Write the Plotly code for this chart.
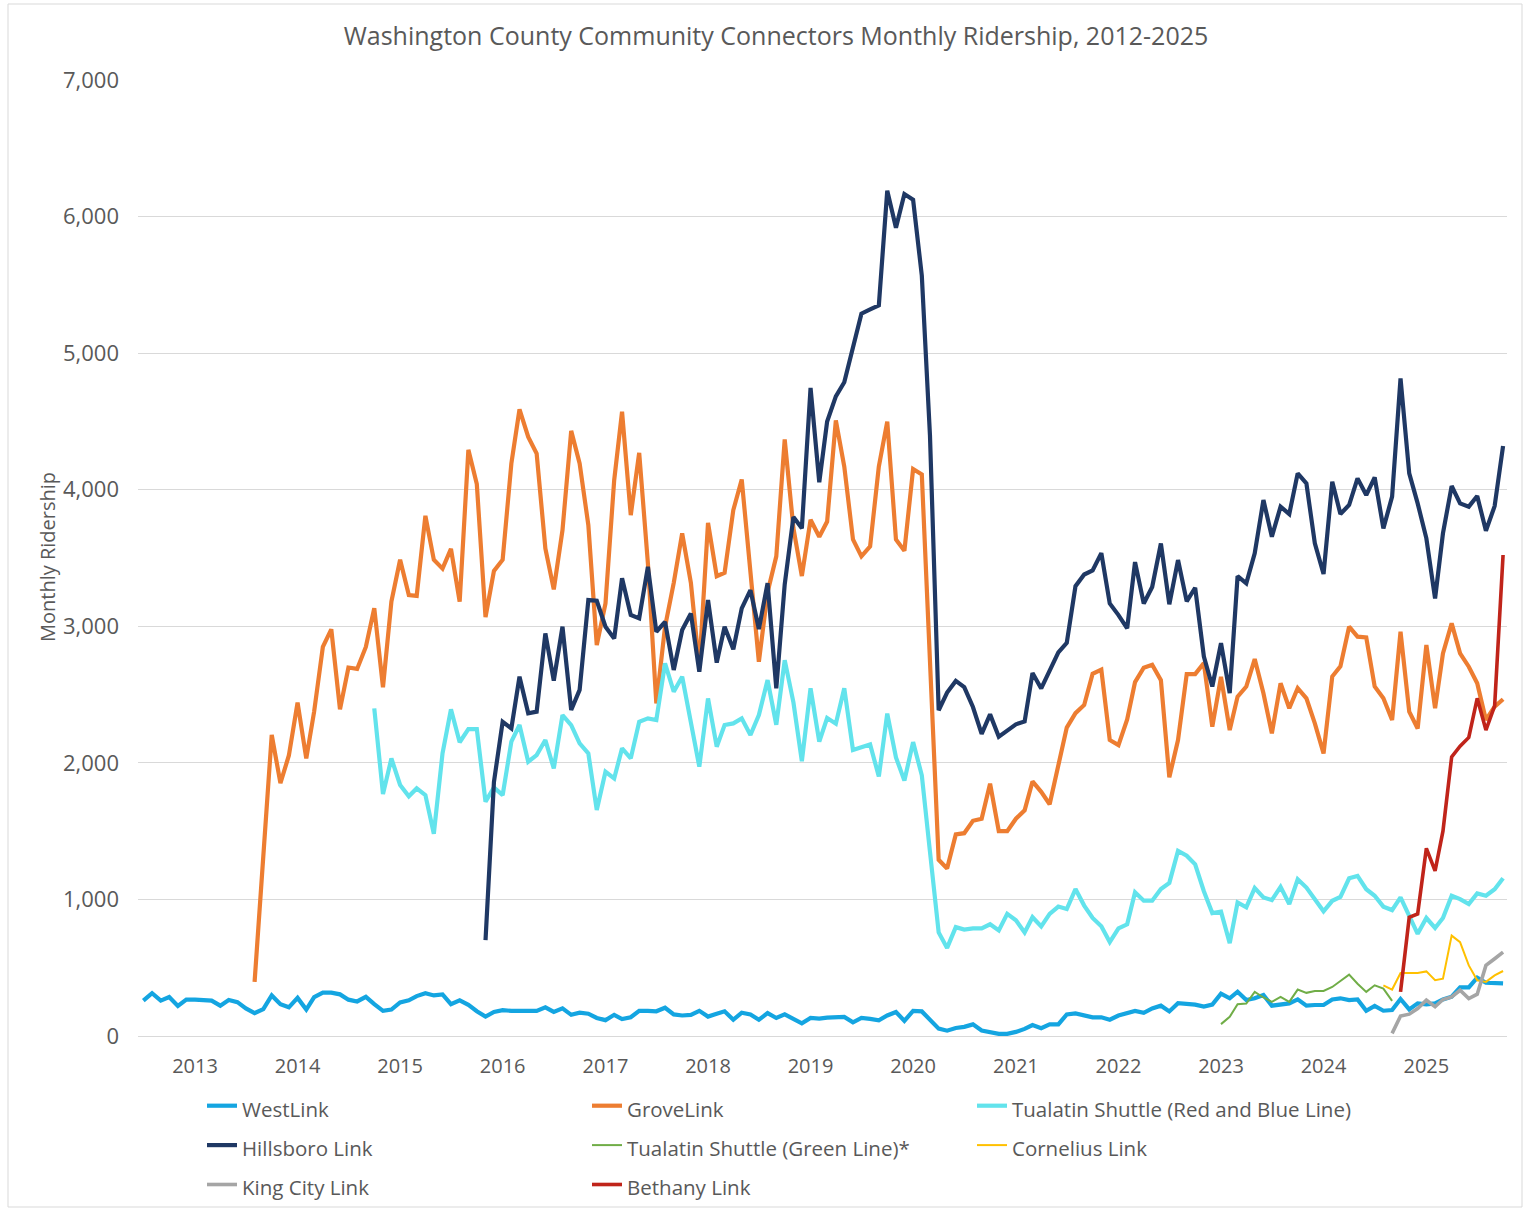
import pandas as pd
import plotly.graph_objects as go

# ---------------- data (monthly ridership) ----------------
TITLE = "Washington County Community Connectors Monthly Ridership, 2012-2025"
Y_TITLE = "Monthly Ridership"
YEAR_TICKS = ["2013", "2014", "2015", "2016", "2017", "2018", "2019",
              "2020", "2021", "2022", "2023", "2024", "2025"]

westlink_start = "2012-07-01"
westlink = [
    259, 313, 259, 285, 220, 266,
    266, 261, 259, 222, 264, 248, 202, 168, 197, 297, 233, 210,
    279, 194, 285, 318, 318, 305, 266, 253, 287, 233, 184, 194,
    246, 261, 292, 313, 297, 305, 233, 261, 228, 181, 142, 176,
    189, 184, 184, 184, 184, 210, 176, 202, 155, 171, 163, 132,
    116, 155, 124, 137, 184, 184, 181, 207, 158, 150, 155, 184,
    142, 163, 181, 119, 171, 158, 119, 168, 132, 158, 129, 93,
    132, 127, 135, 137, 140, 100, 132, 125, 115, 150, 176, 111,
    184, 180, 116, 54, 39, 59, 67, 85, 40, 26, 16, 16,
    30, 52, 80, 57, 85, 85, 158, 165, 150, 137, 137, 119,
    150, 165, 184, 170, 202, 222, 180, 240, 235, 230, 215, 230,
    310, 276, 324, 263, 276, 300, 222, 227, 239, 268, 222, 227,
    227, 268, 276, 263, 268, 185, 220, 185, 190, 271, 195, 239,
    232, 239, 268, 288, 356, 356, 427, 390, 385, 385,
]

grovelink_start = "2013-08-01"
grovelink = [
    396, 1300, 2205, 1851, 2054,
    2441, 2032, 2376, 2849, 2978, 2392, 2698, 2688, 2849, 3133, 2553, 3181,
    3487, 3229, 3223, 3809, 3487, 3422, 3567, 3181, 4292, 4041, 3068, 3406,
    3487, 4192, 4588, 4387, 4265, 3570, 3270, 3704, 4431, 4192, 3741, 2863,
    3167, 4070, 4571, 3814, 4270, 3460, 2435, 2996, 3318, 3680, 3318, 2700,
    3758, 3367, 3392, 3851, 4075, 3400, 2740, 3250, 3512, 4368, 3718, 3368,
    3780, 3656, 3767, 4507, 4170, 3636, 3512, 3586, 4170, 4499, 3636, 3553,
    4152, 4112, 2750, 1290, 1227, 1476, 1485, 1576, 1591, 1848, 1500, 1500,
    1591, 1652, 1864, 1788, 1697, 1985, 2258, 2364, 2424, 2652, 2682, 2167,
    2130, 2318, 2591, 2697, 2718, 2606, 1894, 2167, 2650, 2650, 2730, 2265,
    2630, 2240, 2485, 2559, 2760, 2510, 2216, 2583, 2400, 2547, 2473, 2289,
    2069, 2632, 2706, 2997, 2924, 2919, 2559, 2473, 2314, 2960, 2375, 2252,
    2863, 2400, 2802, 3021, 2802, 2704, 2583, 2314, 2412, 2466,
]

tualatin_rb_start = "2014-10-01"
tualatin_rb = [
    2399, 1771, 2032,
    1838, 1755, 1813, 1764, 1481, 2070, 2392, 2151, 2247, 2247, 1716, 1819,
    1764, 2155, 2277, 2008, 2057, 2167, 1959, 2350, 2277, 2143, 2069, 1655,
    1935, 1886, 2106, 2033, 2301, 2326, 2313, 2728, 2521, 2631, 2289, 1972,
    2472, 2118, 2277, 2289, 2326, 2204, 2350, 2606, 2279, 2752, 2443, 2012,
    2546, 2155, 2328, 2287, 2546, 2094, 2114, 2135, 1900, 2361, 2040, 1870,
    2152, 1909, 1350, 758, 645, 797, 779, 788, 788, 818, 773, 894,
    848, 758, 870, 803, 894, 948, 930, 1076, 955, 864, 803, 688,
    788, 818, 1052, 991, 991, 1076, 1121, 1355, 1320, 1257, 1060, 900,
    910, 680, 978, 942, 1083, 1015, 995, 1092, 966, 1148, 1087, 995,
    913, 990, 1019, 1155, 1172, 1075, 1027, 947, 922, 1015, 881, 748,
    864, 791, 864, 1027, 1002, 966, 1044, 1027, 1075, 1155,
]

hillsboro_start = "2015-11-01"
hillsboro = [
    702, 1861,
    2301, 2252, 2631, 2363, 2375, 2948, 2602, 2997, 2387, 2534, 3192, 3187,
    2997, 2911, 3351, 3083, 3058, 3436, 2960, 3033, 2680, 2973, 3094, 2668,
    3192, 2734, 2997, 2831, 3131, 3265, 2980, 3316, 2546, 3307, 3800, 3717,
    4746, 4055, 4499, 4684, 4787, 5034, 5289, 5320, 5350, 6190, 5918, 6165,
    6123, 5568, 4400, 2385, 2515, 2600, 2555, 2409, 2212, 2355, 2191, 2236,
    2282, 2303, 2658, 2545, 2682, 2809, 2879, 3294, 3379, 3409, 3536, 3167,
    3082, 2985, 3470, 3167, 3288, 3606, 3161, 3485, 3182, 3282, 2779, 2559,
    2877, 2510, 3368, 3314, 3534, 3924, 3656, 3876, 3822, 4120, 4046, 3607,
    3383, 4059, 3822, 3888, 4083, 3961, 4090, 3717, 3949, 4815, 4120, 3900,
    3644, 3204, 3680, 4027, 3900, 3876, 3954, 3700, 3880, 4320,
]

tualatin_green_start = "2023-01-01"
tualatin_green = [
    87, 141, 233, 238, 323, 282, 250, 286, 250, 340, 316, 330,
    330, 359, 403, 449, 383, 323, 371, 347, 257,
]

cornelius_start = "2024-08-01"
cornelius = [371, 340, 461, 461, 461, 473, 408, 420, 735, 687, 517, 408, 396, 444, 476]

king_city_start = "2024-09-01"
king_city = [19, 146, 160, 201, 262, 214, 267, 286, 335, 274, 306, 517, 566, 614]

bethany_start = "2024-10-01"
bethany = [323, 869, 893, 1374, 1209, 1500, 2044, 2122, 2186, 2473, 2240, 2417, 3522]

# ---------------- styling ----------------
series = [
    ("WestLink", westlink_start, westlink, "#14A5E1", 4.2),
    ("GroveLink", grovelink_start, grovelink, "#ED7D31", 4.2),
    ("Tualatin Shuttle (Red and Blue Line)", tualatin_rb_start, tualatin_rb, "#62E3EC", 4.2),
    ("Hillsboro Link", hillsboro_start, hillsboro, "#1F3864", 4.2),
    ("Tualatin Shuttle (Green Line)*", tualatin_green_start, tualatin_green, "#70AD47", 2.0),
    ("Cornelius Link", cornelius_start, cornelius, "#FFC000", 2.0),
    ("King City Link", king_city_start, king_city, "#A5A5A5", 3.6),
    ("Bethany Link", bethany_start, bethany, "#C0241A", 3.6),
]

FONT = "Open Sans"
GREY = "#595959"

fig = go.Figure()
for name, start, vals, color, width in series:
    x = pd.date_range(start, periods=len(vals), freq="MS")
    fig.add_trace(go.Scatter(
        x=x, y=vals, mode="lines",
        name=f'<span style="font-size:20.5px">{name}</span>',
        line=dict(color=color, width=width, shape="linear"),
    ))

tickvals = [f"{y}-01-01" for y in YEAR_TICKS]

fig.update_layout(
    width=1530, height=1211, autosize=False,
    margin=dict(l=138, r=23, t=80, b=175, pad=0, autoexpand=False),
    paper_bgcolor="white", plot_bgcolor="white",
    font=dict(family=FONT, color=GREY),
    title=dict(text=TITLE, x=776 / 1530, xanchor="center",
               y=1 - 36 / 1211, yanchor="middle",
               font=dict(family=FONT, size=25, color=GREY)),
    xaxis=dict(
        type="date", range=["2012-06-12", "2025-10-15"],
        tickvals=tickvals, ticktext=YEAR_TICKS,
        showgrid=False, zeroline=False,
        showline=True, linecolor="#D9D9D9", linewidth=1,
        ticks="", ticklabelstandoff=12,
        tickfont=dict(family=FONT, size=20, color=GREY),
    ),
    yaxis=dict(
        range=[0, 7000], dtick=1000, tickformat=",",
        showgrid=True, gridcolor="#D9D9D9", gridwidth=1,
        zeroline=False, showline=False, ticks="",
        ticklabelstandoff=18,
        tickfont=dict(family=FONT, size=22, color=GREY),
    ),
    annotations=[dict(
        text=Y_TITLE, textangle=-90, showarrow=False,
        xref="paper", yref="paper", x=(47 - 138) / 1369, y=(1036 - 557) / 956,
        xanchor="center", yanchor="middle",
        font=dict(family=FONT, size=20, color=GREY),
    )],
    legend=dict(
        orientation="h", x=(202 - 138) / 1369, xanchor="left",
        y=(1036 - 1081) / 956, yanchor="top",
        font=dict(family=FONT, size=28, color=GREY),
        entrywidth=340, entrywidthmode="pixels",
        itemwidth=30, bgcolor="rgba(0,0,0,0)", traceorder="normal",
    ),
    shapes=[dict(type="rect", xref="paper", yref="paper",
                 x0=(8 - 138) / 1369, x1=(1522 - 138) / 1369,
                 y0=(1036 - 1207) / 956, y1=(1036 - 4) / 956,
                 line=dict(color="#D9D9D9", width=1), fillcolor="rgba(0,0,0,0)",
                 layer="below")],
)

fig.write_html("out.html")
